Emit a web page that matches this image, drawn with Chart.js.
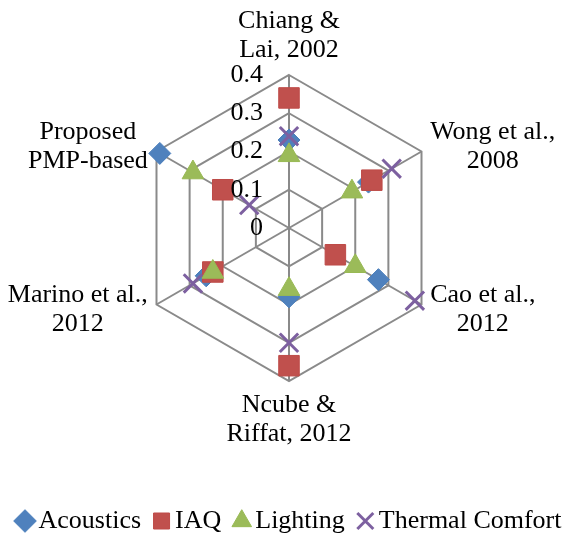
<!DOCTYPE html>
<html>
<head>
<meta charset="utf-8">
<script src="https://cdn.jsdelivr.net/npm/chart.js@4/dist/chart.umd.min.js"></script>
<style>
  html, body { margin: 0; padding: 0; background: #ffffff; }
  canvas { display: block; }
</style>
</head>
<body>
<canvas id="chart" width="579" height="535"></canvas>
<script>
// Studies compared on the six spokes (clockwise from the top)
const categories = [
  ['Chiang &', 'Lai, 2002'],
  ['Wong et al.,', '2008'],
  ['Cao et al.,', '2012'],
  ['Ncube &', 'Riffat, 2012'],
  ['Marino et al.,', '2012'],
  ['Proposed', 'PMP-based']
];

// Weight given to each comfort factor by each study
const acoustics      = [0.23, 0.24, 0.27, 0.18, 0.25, 0.39];
const iaq            = [0.34, 0.25, 0.14, 0.36, 0.23, 0.20];
const lighting       = [0.19, 0.19, 0.20, 0.16, 0.23, 0.29];
const thermalComfort = [0.24, 0.31, 0.38, 0.30, 0.29, 0.12];

const seriesNames = ['Acoustics', 'IAQ', 'Lighting', 'Thermal Comfort'];
const tickLabels = ['0', '0.1', '0.2', '0.3', '0.4'];

const SERIF = '"Liberation Serif", "Times New Roman", serif';
const TEXT_SIZE = 26;

// Ring values and the multi-line study names, drawn over the markers
const axisText = {
  id: 'axisText',
  afterDatasetsDraw(chart) {
    const s = chart.scales.r;
    const ctx = chart.ctx;
    ctx.save();
    ctx.font = TEXT_SIZE + 'px ' + SERIF;
    ctx.fillStyle = '#000000';
    ctx.textBaseline = 'middle';

    // value of each ring, just left of the vertical spoke
    ctx.textAlign = 'right';
    tickLabels.forEach((label) => {
      const y = s.yCenter - s.getDistanceFromCenterForValue(Number(label));
      ctx.fillText(label, s.xCenter - 26, y);
    });

    // study names: each block sits outside its vertex, lines centred
    const lineH = 29;
    ctx.textAlign = 'center';
    categories.forEach((lines, i) => {
      const p = s.getPointPosition(i, s.drawingArea + 10);
      const w = Math.max(...lines.map((t) => ctx.measureText(t).width));
      const h = lines.length * lineH;
      const dx = p.x - s.xCenter;
      const dy = p.y - s.yCenter;
      let cx = p.x;
      let top;
      if (Math.abs(dx) < 1) {
        top = dy < 0 ? p.y - h : p.y;
      } else {
        cx = dx > 0 ? p.x + w / 2 : p.x - w / 2;
        top = p.y - h / 2;
      }
      lines.forEach((t, k) => ctx.fillText(t, cx, top + lineH * (k + 0.5)));
    });
    ctx.restore();
  }
};

function series(label, data, style, fill, edge, radius, borderWidth, order) {
  return {
    label,
    data,
    showLine: false,
    fill: false,
    order,
    pointStyle: style,
    pointRadius: radius,
    pointHoverRadius: radius,
    pointBackgroundColor: fill,
    pointBorderColor: edge,
    pointBorderWidth: borderWidth
  };
}

new Chart(document.getElementById('chart'), {
  type: 'radar',
  data: {
    labels: categories,
    datasets: [
      series(seriesNames[0], acoustics, 'rectRot', '#4F81BD', '#4A7EBB', 11, 1, 4),
      series(seriesNames[1], iaq, 'rect', '#C0504D', '#BE4B48', 14.5, 1, 3),
      series(seriesNames[2], lighting, 'triangle', '#9BBB59', '#98B954', 12.5, 1, 2),
      series(seriesNames[3], thermalComfort, 'crossRot', '#8064A2', '#7D60A0', 13, 3, 1)
    ]
  },
  options: {
    responsive: false,
    animation: false,
    devicePixelRatio: 1,
    events: [],
    layout: { padding: { left: 0, right: -7, top: 75, bottom: -9 } },
    scales: {
      r: {
        min: 0,
        max: 0.4,
        ticks: { stepSize: 0.1, display: false },
        grid: { color: '#8A8A8A', lineWidth: 2 },
        angleLines: { color: '#8A8A8A', lineWidth: 2 },
        pointLabels: { display: false }
      }
    },
    plugins: {
      tooltip: { enabled: false },
      legend: {
        position: 'bottom',
        title: { display: true, text: '', padding: { top: 92, bottom: 0 } },
        labels: {
          usePointStyle: true,
          boxWidth: 1,
          boxHeight: 16,
          padding: 20,
          color: '#000000',
          font: { family: SERIF, size: TEXT_SIZE },
          sort: (a, b) => a.datasetIndex - b.datasetIndex
        }
      }
    }
  },
  plugins: [axisText]
});
</script>
</body>
</html>
